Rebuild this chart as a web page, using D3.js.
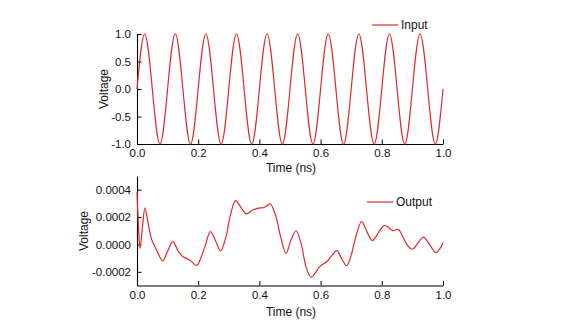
<!DOCTYPE html>
<html>
<head>
<meta charset="utf-8">
<script src="https://cdn.jsdelivr.net/npm/d3@7"></script>
<style>
  body { margin: 0; background: #fff; }
  svg { font-family: "Liberation Sans", Arial, sans-serif; }
</style>
</head>
<body>
<div id="viz"></div>
<script>
const inputTime = [0, 0.025, 0.05, 0.075, 0.1, 0.125, 0.15, 0.175, 0.2, 0.225,
  0.25, 0.275, 0.3, 0.325, 0.35, 0.375, 0.4, 0.425, 0.45, 0.475,
  0.5, 0.525, 0.55, 0.575, 0.6, 0.625, 0.65, 0.675, 0.7, 0.725,
  0.75, 0.775, 0.8, 0.825, 0.85, 0.875, 0.9, 0.925, 0.95, 0.975, 1.0];
const inputVolt = [0, 1, 0, -1, 0, 1, 0, -1, 0, 1,
  0, -1, 0, 1, 0, -1, 0, 1, 0, -1,
  0, 1, 0, -1, 0, 1, 0, -1, 0, 1,
  0, -1, 0, 1, 0, -1, 0, 1, 0, -1, 0];

// output signal (x1e-4 V)
const outputTime = [0, 0.005, 0.010, 0.018, 0.026, 0.036, 0.048, 0.064, 0.084, 0.100,
  0.117, 0.135, 0.151, 0.173, 0.195, 0.210, 0.222, 0.240, 0.258, 0.273,
  0.290, 0.305, 0.322, 0.340, 0.357, 0.377, 0.397, 0.416, 0.435, 0.447,
  0.457, 0.470, 0.487, 0.503, 0.520, 0.537, 0.552, 0.569, 0.585, 0.598,
  0.620, 0.637, 0.653, 0.670, 0.685, 0.700, 0.712, 0.734, 0.752, 0.769,
  0.790, 0.808, 0.822, 0.835, 0.854, 0.868, 0.885, 0.900, 0.918, 0.936,
  0.956, 0.976, 0.990, 1.0];
const outputVolt = [3.8, 1.3, -0.3, 1.3, 2.65, 1.6, 0.35, -0.4, -1.2, -0.5,
  0.2, -0.5, -0.9, -1.15, -1.53, -0.9, -0.16, 0.94, 0.2, -0.48,
  0.5, 2.1, 3.2, 2.7, 2.23, 2.5, 2.65, 2.7, 2.97, 2.5,
  1.8, 0.5, -0.65, 0.3, 1.0, 0.0, -1.6, -2.4, -2.0, -1.6,
  -1.26, -0.8, -0.45, -1.1, -1.55, -0.8, 0.3, 1.67, 0.9, 0.28,
  0.9, 1.38, 1.25, 1.01, 1.1, 0.6, -0.1, -0.35, 0.1, 0.53,
  0.0, -0.6, -0.3, 0.13];

const xTicks = [0, 0.2, 0.4, 0.6, 0.8, 1.0];
const topTicks = [-1, -0.5, 0, 0.5, 1];
const bottomTicks = [-0.0002, 0, 0.0002, 0.0004];

const red = "#de2a2a";

const svg = d3.select("#viz")
    .append("svg")
    .attr("width", 575)
    .attr("height", 325);

const x = d3.scaleLinear().domain([0, 1]).range([137, 443]);
const yTop = d3.scaleLinear().domain([-1, 1]).range([144, 34]);
const yBot = d3.scaleLinear().domain([-0.0003, 0.0005]).range([285.5, 176]);

// plain hyphen instead of d3's unicode minus
const fmt = p => d => d3.format(p)(d).replace("\u2212", "-");

function drawAxes(y, yBottom, yMajor, yMinor, yFmt) {
    const gx = svg.append("g").attr("transform", `translate(0,${yBottom})`);
    gx.call(d3.axisBottom(x).tickValues([0.1, 0.3, 0.5, 0.7, 0.9]).tickSizeInner(-2.5).tickSizeOuter(0).tickFormat(""));
    gx.call(d3.axisBottom(x).tickValues(xTicks).tickSizeInner(-4.5).tickSizeOuter(0).tickPadding(5).tickFormat(fmt(".1f")));

    const gy = svg.append("g").attr("transform", `translate(${x(0)},0)`);
    gy.call(d3.axisLeft(y).tickValues(yMinor).tickSizeInner(-2.5).tickSizeOuter(0).tickFormat(""));
    gy.call(d3.axisLeft(y).tickValues(yMajor).tickSizeInner(-4.5).tickSizeOuter(0).tickPadding(6).tickFormat(yFmt));

    svg.selectAll(".domain").attr("stroke", "#000").attr("stroke-width", 1.1);
    svg.selectAll(".tick line").attr("stroke", "#000");
    svg.selectAll(".tick text").attr("font-size", 11.5).attr("fill", "#111")
        .style("font-family", "'Liberation Sans', Arial, sans-serif");
}

// top panel
drawAxes(yTop, 144, topTicks, [-0.75, -0.25, 0.25, 0.75], fmt(".1f"));
// bottom panel
drawAxes(yBot, 285.5, bottomTicks, [-0.0003, -0.0001, 0.0001, 0.0003, 0.0005], fmt(".4f"));

const topLine = d3.line()
    .x((d, i) => x(inputTime[i]))
    .y(d => yTop(d))
    .curve(d3.curveNatural);

svg.append("path")
    .datum(inputVolt)
    .attr("d", topLine)
    .attr("fill", "none")
    .attr("stroke", red)
    .attr("stroke-width", 1.2);

const botLine = d3.line()
    .x((d, i) => x(outputTime[i]))
    .y(d => yBot(d * 1e-4))
    .curve(d3.curveCatmullRom.alpha(0.5));

svg.append("path")
    .datum(outputVolt)
    .attr("d", botLine)
    .attr("fill", "none")
    .attr("stroke", red)
    .attr("stroke-width", 1.2);

// axis titles
function label(text, px, py, rot) {
    svg.append("text")
        .attr("transform", `translate(${px},${py}) rotate(${rot})`)
        .attr("text-anchor", "middle")
        .attr("font-size", 12)
        .attr("fill", "#111")
        .text(text);
}
label("Time (ns)", 291, 172, 0);
label("Voltage", 108, 89, -90);
label("Time (ns)", 291, 316, 0);
label("Voltage", 88, 231, -90);

// legends
function legend(text, lx, ly) {
    svg.append("line")
        .attr("x1", lx).attr("x2", lx + 26)
        .attr("y1", ly).attr("y2", ly)
        .attr("stroke", red).attr("stroke-width", 1.2);
    svg.append("text")
        .attr("x", lx + 29).attr("y", ly + 4)
        .attr("font-size", 12)
        .attr("fill", "#111")
        .text(text);
}
legend("Input", 372, 25);
legend("Output", 367, 202);
</script>
</body>
</html>
